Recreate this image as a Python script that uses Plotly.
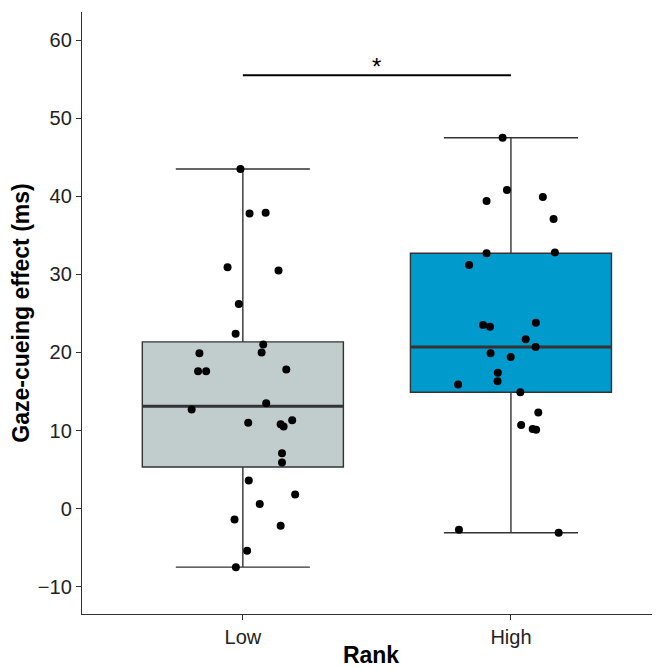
import numpy as np
import plotly.graph_objects as go

categories = ["Low", "High"]
low_values = [43.5, 37.8, 37.9, 30.9, 30.5, 26.2, 22.4, 21.0, 20.0, 19.9, 17.6, 17.6, 17.8, 13.5,
              12.7, 11.0, 10.8, 10.5, 11.3, 7.1, 5.9, 3.6, 1.8, 0.6, -1.4, -2.2, -5.4, -7.5]
low_jitter = [-0.009, 0.025, 0.085, -0.057, 0.133, -0.015, -0.027, 0.076, 0.070, -0.162, -0.167, -0.137,
              0.162, 0.087, -0.191, 0.020, 0.141, 0.152, 0.184, 0.146, 0.146, 0.022, 0.195, 0.063,
              -0.031, 0.141, 0.016, -0.026]
high_values = [47.5, 40.8, 39.4, 39.9, 37.1, 32.7, 32.8, 31.2, 23.5, 23.3, 23.8, 21.7, 20.7, 19.9,
               19.4, 17.4, 16.3, 15.9, 14.9, 12.3, 10.7, 10.2, 10.1, -2.7, -3.1]
high_jitter = [-0.031, -0.015, -0.091, 0.119, 0.159, -0.091, 0.164, -0.156, -0.104, -0.078, 0.093,
               0.055, 0.092, -0.076, -0.001, -0.049, -0.050, -0.197, 0.035, 0.102, 0.038, 0.081,
               0.094, -0.194, 0.178]
fill_colors = ["#C1CDCD", "#009ACD"]
sig_y = 55.5
sig_label = "*"
y_ticks = [-10, 0, 10, 20, 30, 40, 50, 60]

groups = [low_values, high_values]
jitters = [low_jitter, high_jitter]
box_w = 0.75

fig = go.Figure()
for i, (vals, jit) in enumerate(zip(groups, jitters)):
    v = np.array(vals)
    q1, med, q3 = np.percentile(v, [25, 50, 75])
    iqr = q3 - q1
    lo = v[v >= q1 - 1.5 * iqr].min()
    hi = v[v <= q3 + 1.5 * iqr].max()
    fig.add_trace(go.Box(
        x=[i], q1=[q1], median=[med], q3=[q3], lowerfence=[lo], upperfence=[hi],
        width=box_w, whiskerwidth=0.667, fillcolor=fill_colors[i],
        line=dict(color="#333333", width=1.4), boxpoints=False, showlegend=False,
        hoverinfo="skip"))
    fig.add_trace(go.Scatter(
        x=[i - box_w / 2, i + box_w / 2], y=[med, med], mode="lines",
        line=dict(color="#333333", width=3), showlegend=False, hoverinfo="skip"))
    fig.add_trace(go.Scatter(
        x=i + np.array(jit), y=v, mode="markers",
        marker=dict(color="black", size=8), showlegend=False))

# significance bar
fig.add_trace(go.Scatter(x=[0, 1], y=[sig_y, sig_y], mode="lines",
                         line=dict(color="black", width=2.2), showlegend=False))
fig.add_annotation(x=0.5, y=sig_y, text=sig_label, showarrow=False, yanchor="bottom",
                   yshift=-7, font=dict(size=24, color="black", family="Liberation Sans, Arial"))

fig.update_layout(
    width=652, height=660,
    margin=dict(l=74, r=0, t=4, b=54),
    plot_bgcolor="white", paper_bgcolor="white",
    font=dict(family="Liberation Sans, Arial, sans-serif", color="#222222"),
    xaxis=dict(range=[-0.6, 1.556], tickvals=[0, 1], ticktext=categories,
               showgrid=False, zeroline=False, showline=True, linecolor="#333333", linewidth=1.4,
               ticks="outside", ticklen=5, tickcolor="#333333", tickwidth=1.2,
               tickfont=dict(size=20, color="#222222"),
               title=dict(text="<b>Rank</b>", font=dict(size=23, color="black"), standoff=0)),
    yaxis=dict(range=[-13.5, 63.6], tickvals=y_ticks,
               showgrid=False, zeroline=False, showline=True, linecolor="#333333", linewidth=1.4,
               ticks="outside", ticklen=5, tickcolor="#333333", tickwidth=1.2,
               tickfont=dict(size=20, color="#222222"),
               title=dict(text="<b>Gaze-cueing effect (ms)</b>", font=dict(size=23, color="black"),
                          standoff=4)),
)

fig.write_html("out.html")
